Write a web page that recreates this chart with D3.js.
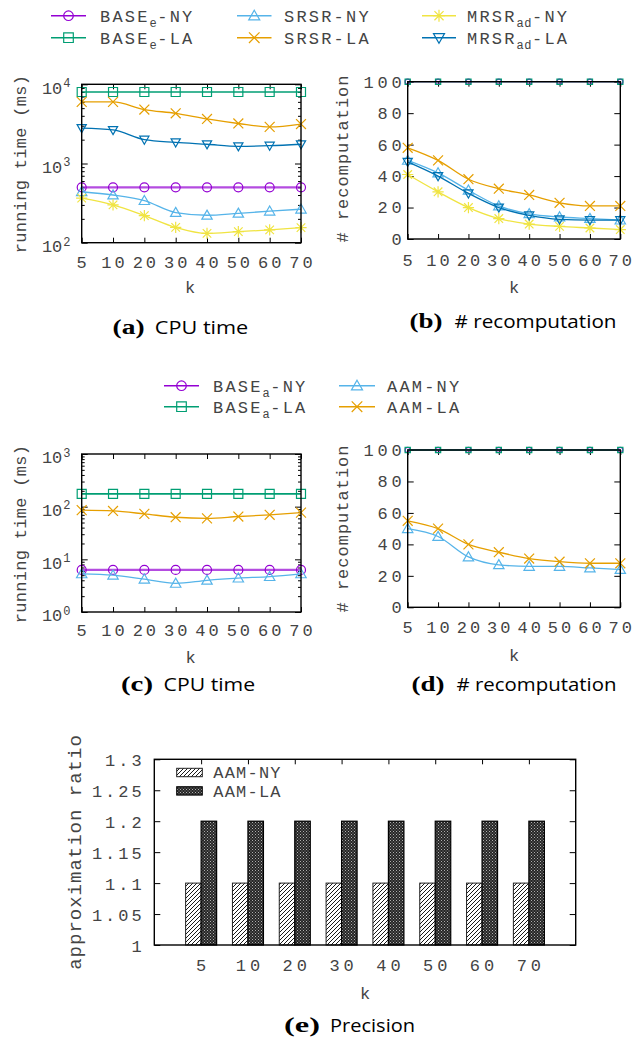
<!DOCTYPE html>
<html><head><meta charset="utf-8">
<script src="https://cdn.jsdelivr.net/npm/d3@7"></script>
<style>body{margin:0;background:#fff} svg{display:block}</style>
</head><body><svg id="c" width="642" height="1038"></svg>
<script>
// ---------------- data ----------------
const kCats = ["5","10","20","30","40","50","60","70"];

// (a) CPU time, exact
const cpuE_baseNY = [500,500,500,500,500,500,500,500];
const cpuE_baseLA = [8000,8000,8000,8000,8000,8000,8000,8000];
const cpuE_srsrNY = [440,400,340,240,222,235,250,265];
const cpuE_srsrLA = [6000,6000,4800,4300,3650,3200,2900,3150];
const cpuE_mrsrNY = [365,300,220,156,131,138,145,155];
const cpuE_mrsrLA = [2800,2650,2000,1850,1750,1650,1680,1750];

// (b) # recomputation, exact
const recE_baseNY = [100,100,100,100,100,100,100,100];
const recE_baseLA = [100,100,100,100,100,100,100,100];
const recE_srsrNY = [50,42,31,21,16,14,13,12];
const recE_srsrLA = [58,50,38,32,28,23,21,21];
const recE_mrsrNY = [41,30,20,13,9.5,8,7,6];
const recE_mrsrLA = [49,40,29,20,15,12.5,12,12];

// (c) CPU time, approximate
const cpuA_baseNY = [6.3,6.3,6.3,6.3,6.3,6.3,6.3,6.3];
const cpuA_baseLA = [175,175,175,175,175,175,175,175];
const cpuA_aamNY = [5.3,5.0,4.2,3.5,4.0,4.4,4.7,5.3];
const cpuA_aamLA = [86,83,73,63,60,65,70,77];

// (d) # recomputation, approximate
const recA_baseNY = [100,100,100,100,100,100,100,100];
const recA_baseLA = [100,100,100,100,100,100,100,100];
const recA_aamNY = [50,45,32,27,26,26,25,24];
const recA_aamLA = [55,50,40,35,31,29,28,28];

// (e) precision
const prec_aamNY = [1.1,1.1,1.1,1.1,1.1,1.1,1.1,1.1];
const prec_aamLA = [1.2,1.2,1.2,1.2,1.2,1.2,1.2,1.2];

// ticks
const logTicksA = [100,1000,10000];
const logTicksC = [1,10,100,1000];
const linTicks = [0,20,40,60,80,100];
const precTicks = [1,1.05,1.1,1.15,1.2,1.25,1.3];
const precTickLabels = ["1","1.05","1.1","1.15","1.2","1.25","1.3"];

// ---------------- styles ----------------
const C = {purple:"#9400D3", green:"#009E73", sky:"#56B4E9", orange:"#E69F00", yellow:"#F0E442", blue:"#0072B2"};
const MONO = "'Liberation Mono','DejaVu Sans Mono',monospace";
const TXT = "#444";
const svg = d3.select("#c");

function markerPath(type, s){
  switch(type){
    case "square": return `M${-s},${-s}h${2*s}v${2*s}h${-2*s}Z`;
    case "tup": { const a=s*1.15; return `M0,${-a}L${a},${a*0.75}L${-a},${a*0.75}Z`; }
    case "tdown": { const a=s*1.15; return `M0,${a}L${a},${-a*0.75}L${-a},${-a*0.75}Z`; }
    case "cross": { const a=s*1.1; return `M${-a},${-a}L${a},${a}M${-a},${a}L${a},${-a}`; }
    case "star": { const a=s*0.95, b=s*1.25; return `M${-a},${-a}L${a},${a}M${-a},${a}L${a},${-a}M${-b},0L${b},0M0,${-b}L0,${b}`; }
  }
}
function drawMarker(g, type, cx, cy, color, s){
  if(type==="circle"){
    g.append("circle").attr("cx",cx).attr("cy",cy).attr("r",s)
      .attr("fill","none").attr("stroke",color).attr("stroke-width",1.2);
  } else {
    g.append("path").attr("d",markerPath(type,s)).attr("transform",`translate(${cx},${cy})`)
      .attr("fill","none").attr("stroke",color).attr("stroke-width",1.2);
  }
}
function txt(g, x, y, s, o={}){
  const t = g.append("text").attr("x",x).attr("y",y)
    .attr("font-family",o.ff||MONO).attr("font-size",o.fs||17)
    .attr("fill",o.fill||TXT).attr("text-anchor",o.anchor||"start")
    .style("letter-spacing",(o.ls||0)+"px");
  if(o.fw) t.attr("font-weight",o.fw);
  if(o.rot) t.attr("transform",`rotate(-90,${x},${y})`);
  t.text(s);
  return t;
}

// ---------------- line panels ----------------
function linePanel(cfg){
  const g = svg.append("g");
  const x = d3.scalePoint().domain(kCats).range([cfg.x0,cfg.x1]);
  const y = (cfg.log ? d3.scaleLog() : d3.scaleLinear()).domain(cfg.domain).range([cfg.y1,cfg.y0]);

  const tk = (sel)=>{ sel.select(".domain").remove(); sel.selectAll("line").attr("stroke","#000").attr("stroke-width",1); sel.selectAll("text").remove(); };
  g.append("g").attr("transform",`translate(0,${cfg.y1})`).call(d3.axisBottom(x).tickSize(-5).tickSizeOuter(0)).call(tk);
  g.append("g").attr("transform",`translate(0,${cfg.y0})`).call(d3.axisTop(x).tickSize(-5).tickSizeOuter(0)).call(tk);
  g.append("g").attr("transform",`translate(${cfg.x0},0)`).call(d3.axisLeft(y).tickValues(cfg.ticks).tickSize(-6).tickSizeOuter(0)).call(tk);
  g.append("g").attr("transform",`translate(${cfg.x1},0)`).call(d3.axisRight(y).tickValues(cfg.ticks).tickSize(-6).tickSizeOuter(0)).call(tk);
  if(cfg.log){
    const minors = [];
    for(let i=0;i<cfg.ticks.length-1;i++) for(let m=2;m<10;m++) minors.push(cfg.ticks[i]*m);
    g.append("g").attr("transform",`translate(${cfg.x0},0)`).call(d3.axisLeft(y).tickValues(minors).tickSize(-3).tickSizeOuter(0)).call(tk);
    g.append("g").attr("transform",`translate(${cfg.x1},0)`).call(d3.axisRight(y).tickValues(minors).tickSize(-3).tickSizeOuter(0)).call(tk);
  }

  const line = d3.line().x(d=>x(d.k)).y(d=>y(d.v)).curve(d3.curveMonotoneX);
  cfg.series.forEach(s=>{
    const pts = kCats.map((k,i)=>({k, v:s.values[i]}));
    g.append("path").attr("d",line(pts)).attr("fill","none").attr("stroke",s.color)
      .attr("stroke-width",s.lw||1.3).attr("stroke-opacity",s.op||1);
    pts.forEach(p=>drawMarker(g, s.marker, x(p.k), y(p.v), s.color, s.ms||4.5));
  });

  g.append("rect").attr("x",cfg.x0).attr("y",cfg.y0).attr("width",cfg.x1-cfg.x0).attr("height",cfg.y1-cfg.y0)
    .attr("fill","none").attr("stroke","#000").attr("stroke-width",1.4);

  kCats.forEach(k=>txt(g, x(k)+1.5, cfg.xTickY, k, {anchor:"middle", ls:3}));
  txt(g, cfg.kX, cfg.kY, "k", {anchor:"middle"});
  if(cfg.log){
    cfg.ticks.forEach(v=>{
      const e = Math.round(Math.log10(v));
      const t = g.append("text").attr("x",cfg.yTickX).attr("y",y(v)+9.3)
        .attr("font-family",MONO).attr("font-size",17).attr("fill",TXT).attr("text-anchor","end");
      t.append("tspan").text("10");
      t.append("tspan").attr("dy",-6.5).attr("font-size",12).attr("dx",1).text(String(e));
    });
  } else {
    cfg.ticks.forEach(v=>txt(g, cfg.yTickX+3.8, y(v)+5.9, String(v), {anchor:"end", ls:3.8}));
  }
  txt(g, cfg.ylX, cfg.ylY, cfg.ylabel, {anchor:"middle", rot:true, ls:cfg.ylLs});
}

const S = (values,color,marker,extra={})=>Object.assign({values,color,marker},extra);

linePanel({x0:81.7,x1:301,y0:84.3,y1:242.7,log:true,domain:[100,10000],ticks:logTicksA,
  series:[S(cpuE_baseNY,C.purple,"circle",{lw:2.4,op:0.7}),S(cpuE_baseLA,C.green,"square",{lw:1.6}),
          S(cpuE_srsrNY,C.sky,"tup"),S(cpuE_srsrLA,C.orange,"cross"),
          S(cpuE_mrsrNY,C.yellow,"star"),S(cpuE_mrsrLA,C.blue,"tdown",{ms:4})],
  xTickY:267.5,kX:190,kY:293,yTickX:70.5,ylX:26,ylY:164,ylabel:"running time (ms)",ylLs:0.3});

linePanel({x0:407.7,x1:620.3,y0:81.7,y1:239,log:false,domain:[0,100],ticks:linTicks,
  series:[S(recE_baseNY,C.purple,"circle",{ms:2.6}),S(recE_baseLA,C.green,"square",{ms:2.6}),
          S(recE_srsrNY,C.sky,"tup"),S(recE_srsrLA,C.orange,"cross"),
          S(recE_mrsrNY,C.yellow,"star"),S(recE_mrsrLA,C.blue,"tdown",{ms:4})],
  xTickY:266,kX:514,kY:292.5,yTickX:401.7,ylX:347.5,ylY:158.5,ylabel:"# recomputation",ylLs:1});

linePanel({x0:81.7,x1:301,y0:454,y1:612,log:true,domain:[1,1000],ticks:logTicksC,
  series:[S(cpuA_baseNY,C.purple,"circle",{lw:2.4,op:0.7}),S(cpuA_baseLA,C.green,"square",{lw:1.6}),
          S(cpuA_aamNY,C.sky,"tup"),S(cpuA_aamLA,C.orange,"cross")],
  xTickY:636,kX:190.7,kY:662.5,yTickX:70.5,ylX:26,ylY:534,ylabel:"running time (ms)",ylLs:0.3});

linePanel({x0:407.7,x1:620.3,y0:450,y1:607.3,log:false,domain:[0,100],ticks:linTicks,
  series:[S(recA_baseNY,C.purple,"circle",{ms:2.6}),S(recA_baseLA,C.green,"square",{ms:2.6}),
          S(recA_aamNY,C.sky,"tup"),S(recA_aamLA,C.orange,"cross")],
  xTickY:633,kX:514,kY:661,yTickX:401.7,ylX:347.5,ylY:528.5,ylabel:"# recomputation",ylLs:1});

// ---------------- legends ----------------
function legendItem(g, x0, x1, y, color, marker, parts, tx, lw){
  g.append("line").attr("x1",x0).attr("x2",x1).attr("y1",y).attr("y2",y).attr("stroke",color).attr("stroke-width",lw||1.5);
  drawMarker(g, marker, (x0+x1)/2, y, color, 4.8);
  const t = g.append("text").attr("x",tx).attr("y",y+5.9).attr("font-family",MONO).attr("font-size",17)
    .attr("fill",TXT).style("letter-spacing","2.2px");
  parts.forEach(p=>{
    if(typeof p === "string") t.append("tspan").text(p);
    else { t.append("tspan").attr("dy",5).attr("font-size",12).style("letter-spacing","0.5px").text(p.sub);
           t.append("tspan").attr("dy",-5).text(p.after); }
  });
}
const lg1 = svg.append("g");
legendItem(lg1, 51, 86, 15.7, C.purple, "circle", ["BASE",{sub:"e",after:"-NY"}], 100);
legendItem(lg1, 51, 86, 37.7, C.green, "square", ["BASE",{sub:"e",after:"-LA"}], 100);
legendItem(lg1, 237, 271.5, 15.7, C.sky, "tup", ["SRSR-NY"], 284);
legendItem(lg1, 237, 271.5, 37.7, C.orange, "cross", ["SRSR-LA"], 284);
legendItem(lg1, 422, 456, 15.7, C.yellow, "star", ["MRSR",{sub:"ad",after:"-NY"}], 467);
legendItem(lg1, 422, 456, 37.7, C.blue, "tdown", ["MRSR",{sub:"ad",after:"-LA"}], 467);

const lg2 = svg.append("g");
legendItem(lg2, 164, 199, 385.7, C.purple, "circle", ["BASE",{sub:"a",after:"-NY"}], 213);
legendItem(lg2, 164, 199, 406.7, C.green, "square", ["BASE",{sub:"a",after:"-LA"}], 213);
legendItem(lg2, 339, 375, 385.7, C.sky, "tup", ["AAM-NY"], 387);
legendItem(lg2, 339, 375, 406.7, C.orange, "cross", ["AAM-LA"], 387);

// ---------------- captions ----------------
function caption(lbl, lx, lw, body, bx, bw, y){
  svg.append("text").attr("x",lx).attr("y",y).attr("font-family","'Liberation Serif',serif").attr("font-weight","bold")
    .attr("font-size",20).attr("fill","#000").attr("textLength",lw).attr("lengthAdjust","spacingAndGlyphs").text(lbl);
  svg.append("text").attr("x",bx).attr("y",y).attr("font-family","'Open Sans','DejaVu Sans',sans-serif")
    .attr("font-size",18).attr("fill","#000").attr("textLength",bw).attr("lengthAdjust","spacingAndGlyphs").text(body);
}
caption("(a)",112.6,32,"CPU time",154.8,93.5,334);
caption("(b)",409.5,33,"# recomputation",454.5,162,327.5);
caption("(c)",121,32,"CPU time",163.6,91.5,691);
caption("(d)",411.5,33,"# recomputation",456.5,160,691);
caption("(e)",284,36,"Precision",330,85,1032);

// ---------------- bar chart ----------------
const defs = svg.append("defs");
const ph = defs.append("pattern").attr("id","hatch").attr("patternUnits","userSpaceOnUse").attr("width",4).attr("height",4);
ph.append("rect").attr("width",4).attr("height",4).attr("fill","#fff");
ph.append("path").attr("d","M-1,1L1,-1M0,4L4,0M3,5L5,3").attr("stroke","#000").attr("stroke-width",0.9);
const pd = defs.append("pattern").attr("id","dots").attr("patternUnits","userSpaceOnUse").attr("width",3).attr("height",3);
pd.append("rect").attr("width",3).attr("height",3).attr("fill","#262626");
pd.append("rect").attr("x",0).attr("y",0).attr("width",1).attr("height",1).attr("fill","#b0b0b0");
pd.append("rect").attr("x",1.5).attr("y",1.5).attr("width",1).attr("height",1).attr("fill","#909090");

(function(){
  const x0=154.3,x1=575.7,y0=759.3,y1=945;
  const g = svg.append("g");
  const x = d3.scalePoint().domain(kCats).range([x0,x1]).padding(1);
  const y = d3.scaleLinear().domain([1,1.3]).range([y1,y0]);
  const tk = (sel)=>{ sel.select(".domain").remove(); sel.selectAll("line").attr("stroke","#000").attr("stroke-width",1); sel.selectAll("text").remove(); };
  g.append("g").attr("transform",`translate(0,${y0})`).call(d3.axisTop(x).tickSize(-5).tickSizeOuter(0)).call(tk);
  g.append("g").attr("transform",`translate(${x0},0)`).call(d3.axisLeft(y).tickValues(precTicks).tickSize(-6).tickSizeOuter(0)).call(tk);
  g.append("g").attr("transform",`translate(${x1},0)`).call(d3.axisRight(y).tickValues(precTicks).tickSize(-6).tickSizeOuter(0)).call(tk);
  const bw = 15.5;
  kCats.forEach((k,i)=>{
    g.append("rect").attr("x",x(k)-bw).attr("y",y(prec_aamNY[i])).attr("width",bw).attr("height",y1-y(prec_aamNY[i]))
      .attr("fill","url(#hatch)").attr("stroke","#222").attr("stroke-width",1);
    g.append("rect").attr("x",x(k)).attr("y",y(prec_aamLA[i])).attr("width",bw).attr("height",y1-y(prec_aamLA[i]))
      .attr("fill","url(#dots)").attr("stroke","#000").attr("stroke-width",1.2);
  });
  g.append("rect").attr("x",x0).attr("y",y0).attr("width",x1-x0).attr("height",y1-y0)
    .attr("fill","none").attr("stroke","#000").attr("stroke-width",1.4);
  precTicks.forEach((v,i)=>txt(g, 141.7+3, y(v)+7, precTickLabels[i], {anchor:"end", ls:3}));
  kCats.forEach(k=>txt(g, x(k)+2, 971, k, {anchor:"middle", ls:4}));
  txt(g, 365, 999, "k", {anchor:"middle"});
  txt(g, 81, 852, "approximation ratio", {anchor:"middle", rot:true, fs:19, ls:1});
  g.append("rect").attr("x",176.7).attr("y",768.3).attr("width",25.6).attr("height",8.4).attr("fill","url(#hatch)").attr("stroke","#222").attr("stroke-width",1);
  g.append("rect").attr("x",176.7).attr("y",786.7).attr("width",25.6).attr("height",8.4).attr("fill","url(#dots)").attr("stroke","#000").attr("stroke-width",1);
  txt(g, 213.3, 778.3, "AAM-NY", {ls:1.2});
  txt(g, 213.3, 796.7, "AAM-LA", {ls:1.2});
})();
</script></body></html>
